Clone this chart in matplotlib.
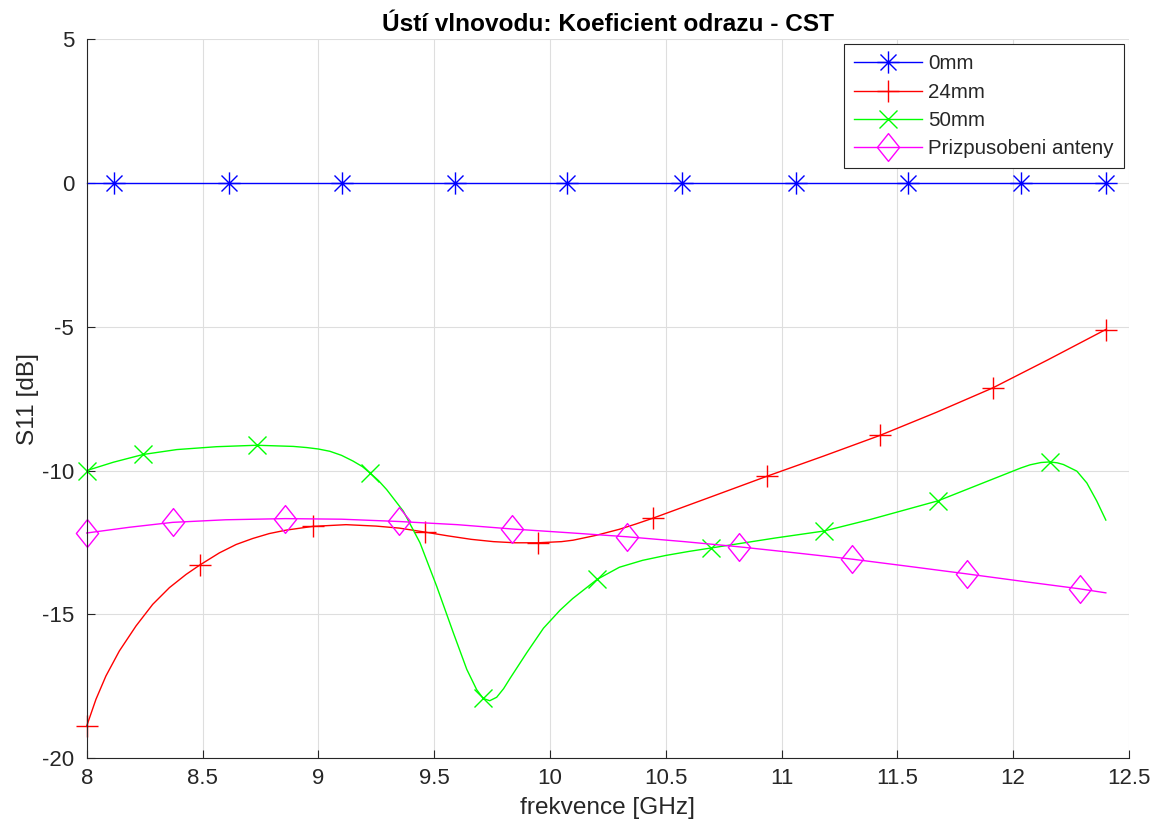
import numpy as np
import matplotlib
matplotlib.use('Agg')
import matplotlib.pyplot as plt
from matplotlib.path import Path

plt.rcParams['font.family'] = ['Liberation Sans', 'DejaVu Sans']
plt.rcParams['axes.unicode_minus'] = False

# S11 from CST, frequency in GHz
f_0mm = [8.000, 8.118, 8.614, 9.102, 9.590, 10.073, 10.570, 11.062, 11.546, 12.034, 12.400]
s_0mm = [0.0, 0.0, 0.0, 0.0, 0.0, 0.0, 0.0, 0.0, 0.0, 0.0, 0.0]
mk_0mm = [1, 2, 3, 4, 5, 6, 7, 8, 9, 10]

f_24mm = [8.000, 8.040, 8.083, 8.141, 8.213, 8.285, 8.357, 8.429, 8.489, 8.573,
          8.645, 8.717, 8.788, 8.861, 8.976, 9.120, 9.250, 9.350, 9.462, 9.560,
          9.660, 9.756, 9.850, 9.947, 10.050, 10.100, 10.200, 10.300, 10.370, 10.443,
          10.690, 10.936, 11.180, 11.424, 11.670, 11.911, 12.150, 12.399]
s_24mm = [-18.88, -17.95, -17.14, -16.27, -15.40, -14.65, -14.07, -13.61, -13.28, -12.86,
          -12.57, -12.36, -12.19, -12.07, -11.94, -11.88, -11.93, -12.00, -12.14, -12.27,
          -12.39, -12.47, -12.51, -12.51, -12.47, -12.42, -12.25, -12.04, -11.86, -11.66,
          -10.93, -10.20, -9.50, -8.78, -7.97, -7.13, -6.15, -5.10]
mk_24mm = [0, 8, 14, 18, 23, 29, 31, 33, 35, 37]

f_50mm = [8.000, 8.115, 8.244, 8.389, 8.561, 8.734, 8.892, 8.950, 9.000, 9.050,
          9.100, 9.150, 9.190, 9.223, 9.260, 9.295, 9.367, 9.439, 9.511, 9.583,
          9.641, 9.684, 9.712, 9.740, 9.770, 9.800, 9.828, 9.900, 9.972, 10.044,
          10.098, 10.204, 10.300, 10.400, 10.500, 10.600, 10.696, 10.976, 11.184, 11.383,
          11.676, 11.870, 12.033, 12.073, 12.120, 12.157, 12.190, 12.217, 12.275, 12.318,
          12.361, 12.400]
s_50mm = [-10.00, -9.71, -9.44, -9.27, -9.17, -9.12, -9.16, -9.20, -9.25, -9.33,
          -9.47, -9.67, -9.86, -10.08, -10.35, -10.66, -11.41, -12.51, -14.02, -15.64,
          -16.91, -17.62, -17.92, -18.00, -17.88, -17.58, -17.22, -16.33, -15.48, -14.85,
          -14.45, -13.78, -13.36, -13.12, -12.95, -12.81, -12.69, -12.34, -12.10, -11.70,
          -11.05, -10.43, -9.91, -9.80, -9.72, -9.70, -9.73, -9.79, -10.02, -10.43,
          -11.06, -11.72]
mk_50mm = [0, 2, 5, 13, 22, 31, 36, 38, 40, 45]

f_ant = [8.000, 8.185, 8.371, 8.600, 8.858, 9.100, 9.348, 9.600, 9.836, 10.080,
         10.331, 10.580, 10.817, 11.060, 11.306, 11.550, 11.799, 12.040, 12.287, 12.400]
s_ant = [-12.17, -11.97, -11.80, -11.71, -11.67, -11.69, -11.77, -11.88, -12.03, -12.16,
         -12.30, -12.47, -12.65, -12.86, -13.08, -13.33, -13.59, -13.85, -14.11, -14.25]
mk_ant = [0, 2, 4, 6, 8, 10, 12, 14, 16, 18]

labels = ['0mm', '24mm', '50mm', 'Prizpusobeni anteny']
xticks = [8, 8.5, 9, 9.5, 10, 10.5, 11, 11.5, 12, 12.5]
xticklabels = ['8', '8.5', '9', '9.5', '10', '10.5', '11', '11.5', '12', '12.5']
yticks = [-20, -15, -10, -5, 0, 5]
yticklabels = ['-20', '-15', '-10', '-5', '0', '5']

# asterisk = plus + shorter cross, diamond a bit taller than wide
d = 0.72
asterisk = Path([(0, -1), (0, 1), (-1, 0), (1, 0), (-d, -d), (d, d), (-d, d), (d, -d)],
                [Path.MOVETO, Path.LINETO] * 4)
diamond = Path([(0, 1), (0.8, 0), (0, -1), (-0.8, 0), (0, 1)],
               [Path.MOVETO, Path.LINETO, Path.LINETO, Path.LINETO, Path.CLOSEPOLY])

fig = plt.figure(figsize=(11.59, 8.34), dpi=100)
ax = fig.add_axes([0.0748, 0.0908, 0.8993, 0.8624])

ax.plot(f_0mm, s_0mm, color='blue', lw=1, marker=asterisk, ms=16, mew=1,
        markevery=mk_0mm, label=labels[0], clip_on=False)
ax.plot(f_24mm, s_24mm, color='red', lw=1, marker='+', ms=16, mew=1,
        markevery=mk_24mm, label=labels[1], clip_on=False)
ax.plot(f_50mm, s_50mm, color='#00ff00', lw=1, marker='x', ms=13, mew=1,
        markevery=mk_50mm, label=labels[2], clip_on=False)
ax.plot(f_ant, s_ant, color='magenta', lw=1, marker=diamond, ms=20, mew=1,
        mfc='none', markevery=mk_ant, label=labels[3], clip_on=False)

ax.set_xlim(8, 12.5)
ax.set_ylim(-20, 5)
ax.set_xticks(xticks)
ax.set_xticklabels(xticklabels)
ax.set_yticks(yticks)
ax.set_yticklabels(yticklabels)
ax.grid(True, color='#dedede', lw=0.8)
ax.set_axisbelow(True)

for side in ['top', 'right']:
    ax.spines[side].set_visible(False)
for side in ['left', 'bottom']:
    ax.spines[side].set_color('#262626')
    ax.spines[side].set_linewidth(0.8)
ax.tick_params(direction='in', length=6, width=0.8, color='#262626',
               labelcolor='#262626', labelsize=16)
ax.tick_params(axis='y', pad=9)
ax.tick_params(axis='x', pad=7)

ax.set_xlabel('frekvence [GHz]', fontsize=17.6, color='#262626', labelpad=6)
ax.set_ylabel('S11 [dB]', fontsize=17.6, color='#262626', labelpad=2)
ax.set_title('Ústí vlnovodu: Koeficient odrazu - CST', fontsize=17.6,
             fontweight='bold', color='black', pad=6)

leg = ax.legend(loc='upper right', fontsize=14.8, numpoints=1, fancybox=False,
                framealpha=1, edgecolor='#262626', handlelength=3.3,
                handletextpad=0.3, borderpad=0.5, labelspacing=0.45,
                borderaxespad=0.25)
leg.get_frame().set_linewidth(0.8)
for t in leg.get_texts():
    t.set_color('#262626')

fig.savefig('out.png', dpi=100, facecolor='white')
